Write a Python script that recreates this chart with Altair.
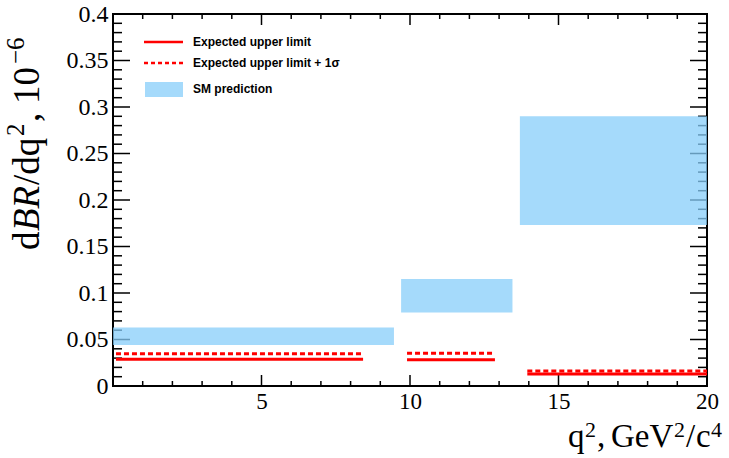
import altair as alt
import pandas as pd

# ---- data ----
# SM prediction bands (q2 range, dBR/dq2 range)
sm_lo_x = [0.0, 9.7, 13.7]
sm_hi_x = [9.46, 13.45, 20.0]
sm_lo_y = [0.044, 0.079, 0.173]
sm_hi_y = [0.063, 0.115, 0.290]

# Expected upper limits per bin
lim_lo_x = [0.1, 9.9, 13.95]
lim_hi_x = [8.42, 12.86, 20.0]
lim_exp = [0.0287, 0.0283, 0.0129]
lim_exp_1s = [0.0347, 0.0351, 0.0161]

# axis ticks
y_labels = [0, 0.05, 0.1, 0.15, 0.2, 0.25, 0.3, 0.35, 0.4]
x_labels = [5, 10, 15, 20]

W, H = 594, 372

sm = pd.DataFrame({"x1": sm_lo_x, "x2": sm_hi_x, "y1": sm_lo_y, "y2": sm_hi_y})
lim = pd.DataFrame({"x1": lim_lo_x, "x2": lim_hi_x, "e": lim_exp, "e1": lim_exp_1s})

y_major = pd.DataFrame({"v": [0.05, 0.1, 0.15, 0.2, 0.25, 0.3, 0.35]})
y_minor = pd.DataFrame({"v": [round(0.01 * i, 2) for i in range(1, 40) if i % 5 != 0]})
x_major = pd.DataFrame({"v": [5, 10, 15]})
x_minor = pd.DataFrame({"v": [i for i in range(1, 20) if i % 5 != 0]})

xs = alt.Scale(domain=[0, 20], nice=False, zero=False)
ys = alt.Scale(domain=[0, 0.4], nice=False, zero=False)

serif = "Liberation Serif"

xa = alt.Axis(values=x_labels, title="", ticks=False, domain=False,
              grid=False, labelFont=serif, labelFontSize=23, labelPadding=4,
              labelFlush=False, labelOverlap=False, labelColor="black")
ya = alt.Axis(values=y_labels, format="~g", title="", ticks=False,
              domain=False, grid=False, labelFont=serif, labelFontSize=24,
              labelPadding=5, labelFlush=False, labelOverlap=False,
              labelColor="black")


def yticks(df, x0, x1):
    return alt.Chart(df).mark_rule(color="black", strokeWidth=1.5).encode(
        y=alt.Y("v:Q", scale=ys, axis=ya), x=alt.value(x0), x2=alt.value(x1))


def xticks(df, y0, y1):
    return alt.Chart(df).mark_rule(color="black", strokeWidth=1.5).encode(
        x=alt.X("v:Q", scale=xs, axis=xa), y=alt.value(y0), y2=alt.value(y1))


ticks = [
    yticks(y_major, 0, 17), yticks(y_minor, 0, 9),
    yticks(y_major, W, W - 17), yticks(y_minor, W, W - 9),
    xticks(x_major, H, H - 11), xticks(x_minor, H, H - 5),
    xticks(x_major, 0, 11), xticks(x_minor, 0, 5),
]

bands = alt.Chart(sm).mark_rect(color="#87cefa", opacity=0.75).encode(
    x=alt.X("x1:Q", scale=xs, axis=xa), x2="x2:Q",
    y=alt.Y("y1:Q", scale=ys, axis=ya), y2="y2:Q")

solid = alt.Chart(lim).mark_rule(color="#ff0000", strokeWidth=3).encode(
    x=alt.X("x1:Q", scale=xs, axis=xa), x2="x2:Q",
    y=alt.Y("e:Q", scale=ys, axis=ya))
dashed = alt.Chart(lim).mark_rule(color="#ff0000", strokeWidth=3, strokeDash=[5, 3]).encode(
    x=alt.X("x1:Q", scale=xs, axis=xa), x2="x2:Q",
    y=alt.Y("e1:Q", scale=ys, axis=ya))

one = alt.Data(values=[{"a": 1}])
leg_font = dict(font="Liberation Sans", fontWeight="bold", fontSize=12, align="left",
                baseline="middle", color="black")
legend = [
    alt.Chart(one).mark_rule(color="#ff0000", strokeWidth=2.5).encode(
        x=alt.value(31), x2=alt.value(70), y=alt.value(28)),
    alt.Chart(one).mark_rule(color="#ff0000", strokeWidth=2.5, strokeDash=[4, 3]).encode(
        x=alt.value(31), x2=alt.value(70), y=alt.value(49)),
    alt.Chart(one).mark_rect(color="#87cefa", opacity=0.75).encode(
        x=alt.value(32), x2=alt.value(70), y=alt.value(68), y2=alt.value(83)),
    alt.Chart(one).mark_text(**leg_font).encode(
        x=alt.value(80), y=alt.value(28), text=alt.value("Expected upper limit")),
    alt.Chart(one).mark_text(**leg_font).encode(
        x=alt.value(80), y=alt.value(49), text=alt.value("Expected upper limit + 1σ")),
    alt.Chart(one).mark_text(**leg_font).encode(
        x=alt.value(80), y=alt.value(75), text=alt.value("SM prediction")),
]


def piece(txt, x, y, size, angle=0, style="normal"):
    return alt.Chart(one).mark_text(
        font=serif, fontSize=size, fontStyle=style, align="left",
        baseline="alphabetic", angle=angle, color="black").encode(
        x=alt.value(x), y=alt.value(y), text=alt.value(txt))


# x-axis title: q², GeV²/c⁴ (pieces with raised superscripts)
XB, XS = 433, 423
x_title = [
    piece("q", 455, XB, 33), piece("2", 472, XS, 22), piece(",", 484, XB, 33),
    piece("GeV", 498, XB, 33), piece("2", 561, XS, 22), piece("/", 573, XB, 33),
    piece("c", 583, XB, 33), piece("4", 598, XS, 22),
]

# y-axis title: dBR/dq², 10⁻⁶ (rotated, reading upward)
YB, YS = -74, -89
y_title = [
    piece("d", YB, 236, 37, 270), piece("BR", YB, 217, 37, 270, "italic"),
    piece("/dq", YB, 171, 37, 270), piece("2", YS, 122, 25, 270),
    piece(",", YB, 108, 37, 270), piece("10", YB, 90, 37, 270),
    piece("−6", YS, 50, 25, 270),
]

chart = alt.layer(*ticks, bands, solid, dashed, *legend, *x_title, *y_title).properties(
    width=W, height=H,
    autosize=alt.AutoSizeParams(type="none"),
    padding={"left": 113, "top": 14, "right": 22, "bottom": 72},
    background="white",
).configure_view(stroke="black", strokeWidth=2)

chart.save("out.html", embed_options={"renderer": "svg", "actions": False})
